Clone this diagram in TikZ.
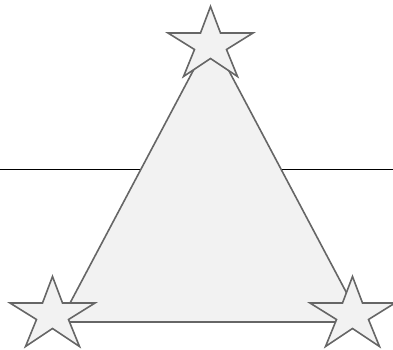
\documentclass[tikz,border=0pt]{standalone}
\usepackage{tikz}

\definecolor{shapefill}{HTML}{F2F2F2}
\definecolor{shapeline}{HTML}{666666}

\begin{document}
\begin{tikzpicture}[x=1pt, y=-1pt,
    figshape/.style={fill=shapefill, draw=shapeline, line width=1.6pt, line join=miter}]
    % 1. Khung hình
    \useasboundingbox (0, 0) rectangle (393, 349);

    % 2. Đường nằm ngang
    \draw[black, line width=1.5pt] (0, 169.5) -- (393, 169.5);

    % 3. Tam giác
    \coordinate (A) at (211, 37);
    \coordinate (B) at (60, 322);
    \coordinate (C) at (362, 322);
    \draw[figshape] (A) -- (B) -- (C) -- cycle;

    % 4. Các ngôi sao tại ba đỉnh
    \foreach \cx/\ty in {210.5/6.5, 52.5/276.5, 352.5/276.5} {
        \draw[figshape, shift={(\cx, \ty)}]
            (0, 0) -- (10, 26.5) -- (42.5, 26.5) -- (16, 43) -- (27, 70)
            -- (0, 52) -- (-27, 70) -- (-16, 43) -- (-42.5, 26.5)
            -- (-10, 26.5) -- cycle;
    }
\end{tikzpicture}
\end{document}
